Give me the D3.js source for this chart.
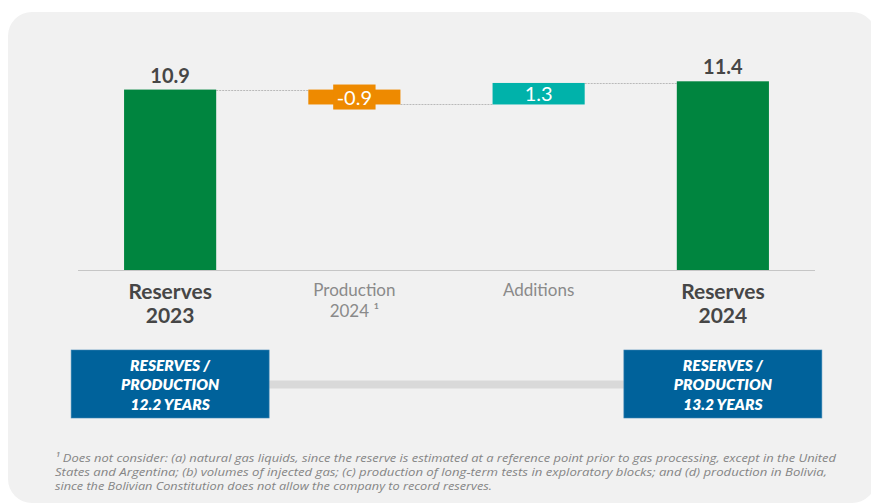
<!DOCTYPE html>
<html>
<head>
<meta charset="utf-8">
<script src="https://cdn.jsdelivr.net/npm/d3@7"></script>
<style>
  html, body { margin: 0; padding: 0; background: #ffffff; }
  svg { display: block; font-family: Lato, "Open Sans", sans-serif; }
</style>
</head>
<body>
<svg id="chart" width="871" height="504"></svg>
<script>
// Gas reserves bridge 2023 -> 2024 (Tcf)
const categories = ["Reserves 2023", "Production 2024", "Additions", "Reserves 2024"];
const labelLines = [["Reserves", "2023"], ["Production", "2024 \u00b9"], ["Additions"], ["Reserves", "2024"]];
const values = [10.9, -0.9, 1.3, 11.4];
const kinds = ["total", "delta", "delta", "total"];
const ratioLines = [["RESERVES /", "PRODUCTION", "12.2 YEARS"], ["RESERVES /", "PRODUCTION", "13.2 YEARS"]];
const footnoteLines = [
  "\u00b9 Does not consider: (a) natural gas liquids, since the reserve is estimated at a reference point prior to gas processing, except in the United",
  "States and Argentina; (b) volumes of injected gas; (c) production of long-term tests in exploratory blocks; and (d) production in Bolivia,",
  "since the Bolivian Constitution does not allow the company to record reserves."
];
const footnoteWidths = [781, 772, 437];

const colors = { total: "#00853f", neg: "#ee8a00", pos: "#00b2aa", box: "#00629b" };

const svg = d3.select("#chart");

// panel background
svg.append("rect")
  .attr("x", 8).attr("y", 12).attr("width", 868).attr("height", 491)
  .attr("rx", 24).attr("ry", 24)
  .attr("fill", "#f1f1f1");

// waterfall steps
let run = 0;
const steps = categories.map((c, i) => {
  let y0, y1;
  if (kinds[i] === "total") { y0 = 0; y1 = values[i]; run = values[i]; }
  else { y0 = run; y1 = run + values[i]; run = y1; }
  return { cat: c, value: values[i], kind: kinds[i], lo: Math.min(y0, y1), hi: Math.max(y0, y1), start: y0, end: y1 };
});

const x = d3.scaleBand().domain(categories).range([78, 815]).paddingInner(0.5).paddingOuter(0.25);
const y = d3.scaleLinear().domain([0, 11.4]).range([270, 81.3]);

// connectors between consecutive bars
const conn = svg.append("g");
for (let i = 0; i < steps.length - 1; i++) {
  const lvl = steps[i].kind === "total" ? steps[i].hi : steps[i].end;
  conn.append("line")
    .attr("x1", x(steps[i].cat) + x.bandwidth()).attr("x2", x(steps[i + 1].cat))
    .attr("y1", Math.round(y(lvl)) + 0.5).attr("y2", Math.round(y(lvl)) + 0.5)
    .attr("stroke", "#b9b9b9").attr("stroke-width", 1).attr("stroke-dasharray", "2,1");
}

// bars
svg.append("g").selectAll("rect").data(steps).join("rect")
  .attr("x", d => x(d.cat))
  .attr("width", x.bandwidth())
  .attr("y", d => y(d.hi))
  .attr("height", d => y(d.lo) - y(d.hi))
  .attr("fill", d => d.kind === "total" ? colors.total : (d.value < 0 ? colors.neg : colors.pos));

// axis baseline
svg.append("line")
  .attr("x1", x.range()[0]).attr("x2", x.range()[1])
  .attr("y1", y(0) + 0.5).attr("y2", y(0) + 0.5)
  .attr("stroke", "#c6c6c6").attr("stroke-width", 1.2);

// value labels
const fmt = v => d3.format(".1f")(v).replace("\u2212", "-");
steps.forEach(d => {
  const cx = x(d.cat) + x.bandwidth() / 2;
  if (d.kind === "total") {
    svg.append("text")
      .attr("x", cx).attr("y", y(d.hi) - 7)
      .attr("text-anchor", "middle")
      .attr("font-size", 20).attr("font-weight", 700)
      .attr("fill", "#464646")
      .text(fmt(d.value));
  } else {
    const mid = (y(d.lo) + y(d.hi)) / 2;
    const g = svg.append("g");
    const t = g.append("text")
      .attr("x", cx).attr("y", mid + 7.5)
      .attr("text-anchor", "middle")
      .attr("font-size", 20)
      .attr("fill", "#ffffff")
      .text(fmt(d.value));
    if (d.value < 0) {
      const w = t.node().getComputedTextLength() + 7;
      g.insert("rect", "text")
        .attr("x", cx - w / 2).attr("width", w)
        .attr("y", mid - 12.5).attr("height", 25)
        .attr("fill", colors.neg);
    }
  }
});

// category labels
steps.forEach((d, i) => {
  const cx = x(d.cat) + x.bandwidth() / 2;
  const bold = d.kind === "total";
  const t = svg.append("text")
    .attr("text-anchor", "middle")
    .attr("font-size", bold ? 21 : 17)
    .attr("font-weight", bold ? 700 : 400)
    .attr("fill", bold ? "#464646" : "#8a8a8a");
  labelLines[i].forEach((line, j) => {
    t.append("tspan")
      .attr("x", cx)
      .attr("y", bold ? 298.5 + j * 24.5 : 295.5 + j * 21)
      .text(line);
  });
});

// reserves / production boxes and link bar
const boxes = [
  { cat: categories[0], lines: ratioLines[0] },
  { cat: categories[3], lines: ratioLines[1] }
];
const boxW = 198, boxH = 68, boxTop = 350;
const bx = b => x(b.cat) + x.bandwidth() / 2 - boxW / 2;
svg.append("rect")
  .attr("x", bx(boxes[0]) + boxW).attr("width", bx(boxes[1]) - bx(boxes[0]) - boxW)
  .attr("y", 380.5).attr("height", 8)
  .attr("fill", "#d9d9d9");
boxes.forEach(b => {
  svg.append("rect")
    .attr("x", bx(b)).attr("y", boxTop).attr("width", boxW).attr("height", boxH)
    .attr("fill", colors.box).attr("stroke", "#3f86b5").attr("stroke-width", 0.6);
  const t = svg.append("text")
    .attr("text-anchor", "middle")
    .attr("font-size", 15.5).attr("font-weight", 800).attr("font-style", "italic")
    .attr("fill", "#ffffff");
  b.lines.forEach((line, j) => {
    t.append("tspan")
      .attr("x", bx(b) + boxW / 2)
      .attr("y", 370.5 + j * 19.5)
      .text(line);
  });
});

// footnote
const fn = svg.append("g")
  .attr("font-family", "'Open Sans', sans-serif")
  .attr("font-size", 11.5).attr("font-style", "italic")
  .attr("fill", "#858585");
footnoteLines.forEach((line, j) => {
  fn.append("text").attr("x", 55).attr("y", 461.5 + j * 14.3)
    .attr("textLength", footnoteWidths[j]).attr("lengthAdjust", "spacingAndGlyphs")
    .text(line);
});
</script>
</body>
</html>
